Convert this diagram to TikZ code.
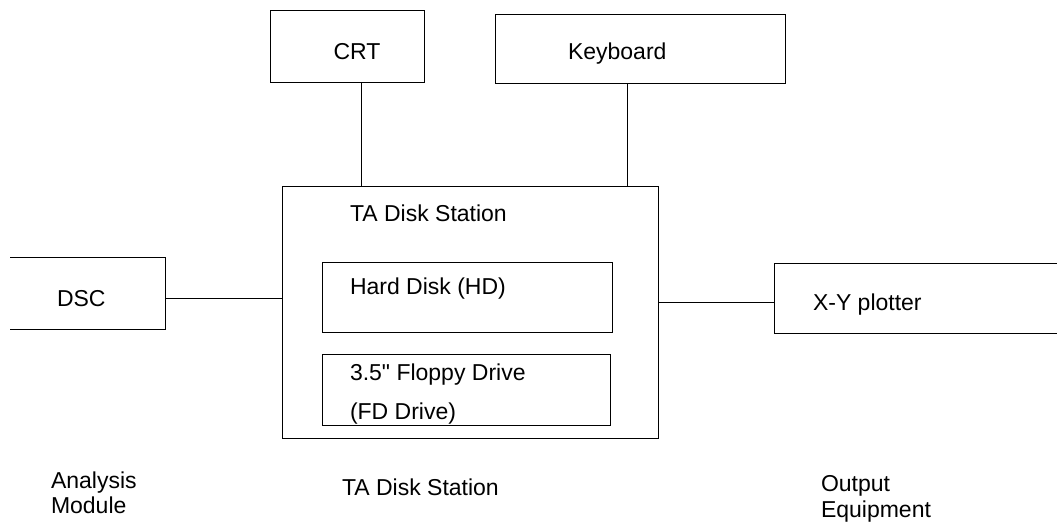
\documentclass[tikz,border=0pt]{standalone}
\usepackage{fontspec}
\setmainfont{Liberation Sans}[Ligatures=TeXOff]
\begin{document}
\begin{tikzpicture}[x=1pt,y=-1pt,
  box/.style={rectangle,inner sep=0pt,outer sep=0pt},
  frame/.style={box,draw=black,line width=1pt},
  link/.style={draw=black,line width=1pt},
  txt/.style={font=\fontsize{23}{28}\selectfont,inner sep=0pt,outer sep=0pt,
              text height=16.5pt,text depth=0pt,anchor=west}]
\useasboundingbox (0,0) rectangle (1057,528);
\fill[white] (0,0) rectangle (1057,528);

% boxes
\node[frame,minimum width=154pt,minimum height=72pt] (crt) at (347,46) {};
\node[frame,minimum width=290pt,minimum height=69pt] (kbd) at (640,48.5) {};
\node[frame,minimum width=376pt,minimum height=252pt] (main) at (470,312) {};
\node[frame,minimum width=290pt,minimum height=70pt] (hd) at (467,297) {};
\node[frame,minimum width=288pt,minimum height=71pt] (fd) at (466,389.5) {};
\node[box,minimum width=155pt,minimum height=72pt] (dsc) at (87.5,293) {};
\node[box,minimum width=283pt,minimum height=70pt] (xy) at (915.5,298) {};
\draw[link] (dsc.north west) -- (dsc.north east) -- (dsc.south east) -- (dsc.south west);
\draw[link] (xy.north east) -- (xy.north west) -- (xy.south west) -- (xy.south east);

% connector positions
\coordinate (cx) at (361,0);
\coordinate (kx) at (627,0);
\coordinate (ly) at (0,298);
\coordinate (ry) at (0,302);

\draw[link] (crt.south -| cx) -- (main.north -| cx);
\draw[link] (kbd.south -| kx) -- (main.north -| kx);
\draw[link] (dsc.east |- ly) -- (main.west |- ly);
\draw[link] (main.east |- ry) -- (xy.west |- ry);

% texts
\node[txt,anchor=center] (tcrt) at (357,51) {CRT};
\node[txt] (tkbd) at (568,51) {Keyboard};
\node[txt] (tmain) at (350,213) {TA Disk Station};
\node[txt] (thd) at (350,286) {Hard Disk (HD)};
\node[txt] (tfd1) at (350,372) {3.5" Floppy Drive};
\node[txt] (tfd2) at (350,411) {(FD Drive)};
\node[txt] (tdsc) at (57,298) {DSC};
\node[txt] (txy) at (813,302) {X-Y plotter};
\node[txt] (ta1) at (51,480) {Analysis};
\node[txt] (ta2) at (51,505) {Module};
\node[txt] (tts) at (342,487) {TA Disk Station};
\node[txt] (to1) at (821,483) {Output};
\node[txt] (to2) at (821,509) {Equipment};
\end{tikzpicture}
\end{document}
